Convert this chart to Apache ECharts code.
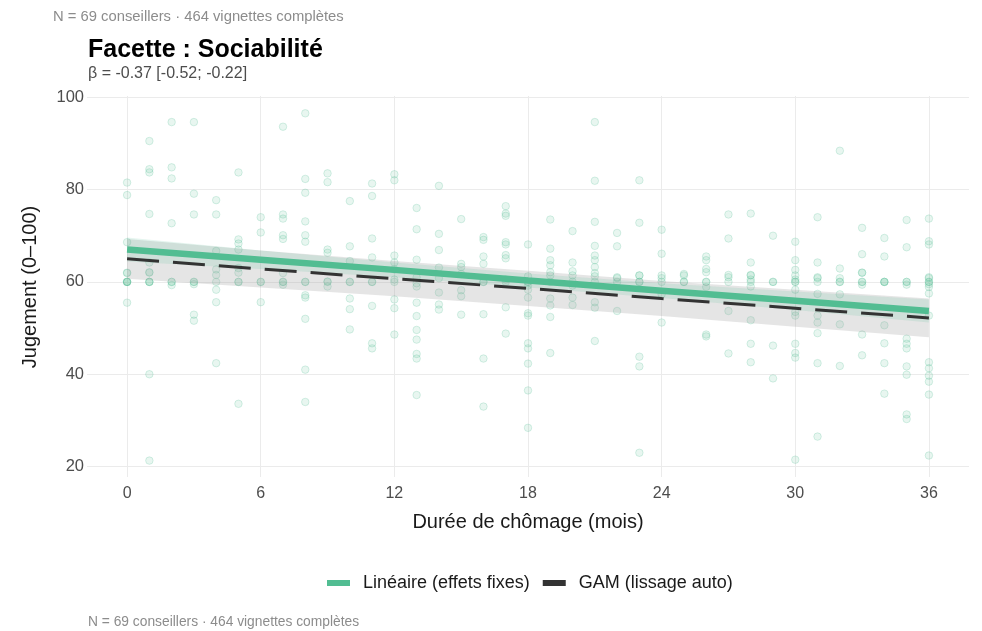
<!DOCTYPE html>
<html>
<head>
<meta charset="utf-8">
<script src="https://cdn.jsdelivr.net/npm/echarts@6/dist/echarts.min.js"></script>
<style>
html,body{margin:0;padding:0;background:#fff;}
#chart{width:982px;height:631px;}
</style>
</head>
<body>
<div id="chart"></div>
<script>
// ---- Data ----
var months = [0,1,2,3,4,5,6,7,8,9,10,11,12,13,14,15,16,17,18,19,20,21,22,23,24,25,26,27,28,29,30,31,32,33,34,35,36];
var judgements = [
  [81.5,78.8,68.6,62,61.9,60,60,60,60,55.5],
  [90.5,84.4,83.7,74.7,64.2,62.1,62,60,60,60,40,21.3],
  [94.6,84.8,82.4,72.7,60,60,59.3],
  [94.6,79.1,74.6,60,60,59.5,52.9,51.6],
  [77.7,74.6,66.7,62.7,61.5,60,58.3,55.6,42.4],
  [83.7,69.2,68.3,67,63,62,60,60,33.6],
  [74,70.7,60,60,55.6],
  [93.6,74.6,73.7,70.1,69.3,61.9,60,60,59.4],
  [96.5,82.3,79.3,73.1,70.1,68.7,60,60,57.1,56.6,52,41,34],
  [83.5,81.6,67,66.3,60.1,60,59],
  [77.5,67.7,64.5,60,60,56.4,54.1,49.7],
  [81.3,78.6,69.4,65.3,60,60,54.8,46.7,45.6],
  [83.3,82,65.7,64.2,62.7,60.5,60,56.2,54.3,48.6],
  [76,71.4,64.8,61,59.7,59,55.5,52.6,49.6,47.5,44.4,43.4,35.5],
  [80.8,70.4,66.9,63.1,60.8,57.7,55.1,54],
  [73.6,63.9,63.2,61.7,58.2,56.9,52.9],
  [69.7,69.1,65.5,63.9,60,60,53,43.4,33],
  [76.4,74.8,74.3,68.6,68.1,65.8,65.1,60.5,60,54.5,48.8],
  [68.1,61.2,60,60,59.2,58.3,56.6,53.2,52.7,46.7,45.6,42.3,36.5,28.4],
  [73.5,67.2,64.7,63.6,62.1,61.4,60,56.4,54.9,52.4,44.6],
  [71,64.2,62.3,61.4,60,59.2,56.6,55],
  [94.6,81.9,73,67.8,65.7,64.7,63.2,61.9,61.2,60,55.6,54.4,47.2],
  [70.6,67.7,61,60.8,60,53.7],
  [82,72.8,61.4,61.4,60,60,43.8,41.7,23],
  [71.3,66.1,61.4,60.8,60,57.3,51.2],
  [61.7,61.4,60,60],
  [65.5,64.7,62.8,62.1,60,60,58.9,48.6,48.2],
  [74.6,69.4,61.5,61,60,53.7,44.5],
  [74.8,64.2,61.5,61.4,60.5,60,59,51.7,46.6,42.6],
  [70,60,60,46.2,39.1],
  [68.7,64.7,62.6,61.4,60.5,60,60,58.3,53.5,52.7,46.6,44.6,43.6,21.5],
  [74,64.2,61,60.8,60,57.4,52.7,51.2,48.9,42.4,26.5],
  [88.4,62.9,60.8,60,60,57.3,50.8,41.8],
  [71.7,66,62,62,60,60,59.4,48.6,44.1],
  [69.5,65.5,60,60,60,50.6,46.7,42.4,35.8],
  [73.4,67.5,60,60,59.4,47.7,46.6,45.6,41.7,39.9,31.3,30.3],
  [73.7,68.8,68.1,61,60.8,60,60,59.5,58.9,57.5,52.7,42.6,41.3,39.7,38.4,35.6,22.4]
];
var fitX   = [0,6,12,18,24,30,36];
var linFit = [67.0,64.8,62.6,60.3,58.1,55.9,53.7];
var linLo  = [64.4,62.8,61.0,58.8,56.5,53.9,51.2];
var linHi  = [69.6,66.8,64.2,61.8,59.7,57.9,56.2];
var gamFit = [65.0,62.8,60.7,58.6,56.4,54.3,52.2];
var gamLo  = [60.7,58.8,56.9,54.8,52.6,50.3,48.0];
var gamHi  = [69.3,66.8,64.5,62.4,60.2,58.3,56.4];
var xTicks = [0,6,12,18,24,30,36];
var yTicks = [20,40,60,80,100];
var seriesNames = ['Linéaire (effets fixes)','GAM (lissage auto)'];
var captionText = 'N = 69 conseillers · 464 vignettes complètes';
var titleText = 'Facette : Sociabilité';
var subtitleText = 'β = -0.37 [-0.52; -0.22]';

// ---- Build ----
var GREEN = '#52bd92';
var FONT = '"Liberation Sans", Arial, sans-serif';
var points = [];
months.forEach(function(m, i){ judgements[i].forEach(function(v){ points.push([m, v]); }); });
function pairs(xs, ys){ return xs.map(function(x,i){ return [x, ys[i]]; }); }
function band(xs, lo, hi, color){
  return {
    type:'custom', silent:true, z:3, clip:true, data:[0],
    renderItem:function(params, api){
      var pts = [];
      for (var i=0;i<xs.length;i++) pts.push(api.coord([xs[i], hi[i]]));
      for (var j=xs.length-1;j>=0;j--) pts.push(api.coord([xs[j], lo[j]]));
      return {type:'polygon', shape:{points:pts}, style:{fill:color}};
    }
  };
}

var chart = echarts.init(document.getElementById('chart'), null, {renderer:'canvas'});
chart.setOption({
  animation:false,
  backgroundColor:'#fff',
  grid:{left:87, top:96, width:882, height:381, containLabel:false},
  xAxis:{
    type:'value', min:-1.8, max:37.8,
    axisLine:{show:false},
    axisTick:{show:false, customValues:xTicks},
    axisLabel:{customValues:xTicks, color:'#4d4d4d', fontSize:16, fontFamily:FONT, margin:9},
    splitLine:{show:true, lineStyle:{color:'#ebebeb', width:1}}
  },
  yAxis:{
    type:'value', min:17.75, max:100.25,
    axisLine:{show:false},
    axisTick:{show:false, customValues:yTicks},
    axisLabel:{customValues:yTicks, color:'#4d4d4d', fontSize:16.5, fontFamily:FONT, margin:3},
    splitLine:{show:true, lineStyle:{color:'#ebebeb', width:1}}
  },
  legend:{
    left:322, top:569, itemWidth:23, itemHeight:6, itemGap:13,
    textStyle:{fontSize:18, fontFamily:FONT, color:'#1a1a1a', padding:[0,0,0,8]},
    data:[
      {name:seriesNames[0], icon:'rect', itemStyle:{color:GREEN}},
      {name:seriesNames[1], icon:'rect', itemStyle:{color:'#333333'}}
    ]
  },
  series:[
    {type:'scatter', data:points, symbolSize:7.5, z:2, silent:true,
     itemStyle:{color:'rgba(82,189,146,0.17)', borderColor:'rgba(82,189,146,0.28)', borderWidth:1}},
    band(fitX, gamLo, gamHi, 'rgba(153,153,153,0.25)'),
    band(fitX, linLo, linHi, 'rgba(82,189,146,0.15)'),
    {type:'line', name:seriesNames[1], data:pairs(fitX, gamFit), showSymbol:false, z:5, silent:true,
     lineStyle:{color:'#333333', width:3, type:[32,14]}},
    {type:'line', name:seriesNames[0], data:pairs(fitX, linFit), showSymbol:false, z:6, silent:true,
     lineStyle:{color:GREEN, width:6.5}}
  ],
  graphic:[
    {type:'text', left:53, top:9, style:{text:captionText, fontSize:14.8, fontFamily:FONT, fill:'#8c8c8c'}},
    {type:'text', left:88, top:38, style:{text:titleText, fontSize:25, fontWeight:'bold', fontFamily:FONT, fill:'#000'}},
    {type:'text', left:88, top:66, style:{text:subtitleText, fontSize:16, fontFamily:FONT, fill:'#4d4d4d'}},
    {type:'text', left:88, top:615, style:{text:captionText, fontSize:13.8, fontFamily:FONT, fill:'#8c8c8c'}},
    {type:'text', x:528, y:522, style:{text:'Durée de chômage (mois)', fontSize:20, fontFamily:FONT, fill:'#1a1a1a', align:'center', verticalAlign:'middle'}},
    {type:'text', x:30, y:287, rotation:Math.PI/2, style:{text:'Jugement (0–100)', fontSize:20, fontFamily:FONT, fill:'#1a1a1a', align:'center', verticalAlign:'middle'}}
  ]
});
</script>
</body>
</html>
